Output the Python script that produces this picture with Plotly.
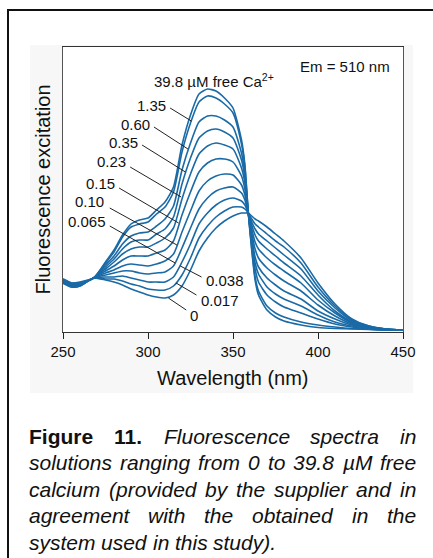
import plotly.graph_objects as go

# ---------------- data ----------------
wavelength = [250, 255, 260, 268, 275, 280, 285, 290, 295, 300, 305, 310, 315, 320,
              325, 330, 335, 340, 345, 350, 355, 357, 359, 361, 363, 365, 370, 375,
              380, 390, 400, 410, 420, 430, 440, 450]

ca_labels = ['0', '0.017', '0.038', '0.065', '0.10', '0.15', '0.23', '0.35', '0.60', '1.35', '39.8']

ex_0 = [47, 43, 44, 52, 50, 48, 45, 41, 38, 35, 33, 32, 35, 44, 60, 79, 92, 102, 109, 114,
        117, 117, 117, 114, 111, 109, 103, 96, 89, 72, 47, 26, 11, 4, 1, 0]
ex_0017 = [47, 43, 44, 52, 51, 51, 49, 46, 44, 41, 40, 40, 44, 55, 72, 92, 104, 113, 119, 123,
           123, 121, 117, 111, 106, 103, 96, 89, 83, 67, 43, 24, 10, 4, 1, 0]
ex_0038 = [48, 44, 45, 52, 53, 53, 54, 52, 50, 48, 48, 48, 53, 68, 86, 106, 117, 125, 130, 132,
           129, 125, 117, 108, 101, 96, 89, 82, 75, 61, 39, 22, 9, 3, 1, 0]
ex_0065 = [48, 44, 45, 52, 55, 57, 59, 59, 57, 56, 57, 58, 64, 82, 102, 121, 132, 139, 142, 143,
           137, 130, 117, 105, 95, 89, 81, 74, 67, 54, 35, 19, 8, 3, 1, 0]
ex_010 = [48, 44, 45, 52, 57, 60, 64, 66, 65, 64, 66, 69, 76, 98, 119, 139, 149, 154, 156, 155,
          145, 135, 117, 101, 88, 81, 72, 65, 59, 47, 30, 17, 7, 3, 1, 0]
ex_015 = [49, 45, 46, 52, 59, 64, 70, 74, 74, 74, 77, 80, 89, 115, 138, 158, 167, 171, 171, 168,
          154, 141, 117, 97, 81, 72, 62, 55, 49, 39, 25, 14, 6, 2, 0.5, 0]
ex_023 = [49, 45, 46, 52, 61, 68, 76, 81, 83, 83, 87, 92, 102, 131, 156, 176, 184, 187, 185, 181,
          162, 147, 117, 93, 73, 63, 52, 45, 39, 31, 19, 11, 5, 2, 0, 0]
ex_035 = [50, 46, 47, 52, 63, 71, 81, 88, 90, 90, 96, 101, 113, 146, 172, 192, 199, 201, 198, 192,
          170, 152, 117, 90, 67, 56, 43, 36, 31, 24, 15, 8, 4, 1.5, 0, 0]
ex_060 = [50, 46, 47, 52, 65, 74, 86, 94, 97, 98, 104, 111, 124, 160, 187, 208, 214, 214, 210, 203,
          177, 156, 117, 86, 61, 48, 35, 28, 23, 17, 11, 6, 3, 1, 0, 0]
ex_135 = [51, 47, 47, 52, 67, 78, 93, 103, 106, 108, 116, 123, 138, 178, 207, 228, 234, 232, 226, 217,
          186, 163, 117, 82, 53, 39, 24, 17, 13, 8, 5, 3, 1.5, 0.7, 0, 0]
ex_398 = [51, 47, 48, 52, 68, 80, 95, 106, 110, 112, 120, 128, 143, 185, 215, 236, 241, 239, 232, 222,
          190, 165, 117, 80, 50, 35, 20, 13, 9, 5, 2.5, 1.5, 1, 0.5, 0, 0]

series = [ex_0, ex_0017, ex_0038, ex_0065, ex_010, ex_015, ex_023, ex_035, ex_060, ex_135, ex_398]

x_ticks = [250, 300, 350, 400, 450]

# ---------------- figure ----------------
W, H = 433, 558
L, R, T, B = 63, 30, 47, 226
PW, PH = W - L - R, H - T - B
FONT = 'Liberation Sans, Arial, Helvetica, sans-serif'
BLUE = '#1a6aa6'


def px(x):
    return (x - L) / PW


def py(y):
    return (H - B - y) / PH


fig = go.Figure()
for vals, lab in zip(series, ca_labels):
    fig.add_trace(go.Scatter(x=wavelength, y=vals, mode='lines', name=lab,
                             line=dict(color=BLUE, width=1.6, shape='spline', smoothing=0.6),
                             hoverinfo='skip', showlegend=False))

shapes = [
    dict(type='rect', xref='paper', yref='paper', x0=px(30), x1=px(413), y0=py(393), y1=py(45),
         fillcolor='#f7f7f7', line=dict(width=0), layer='below'),
    dict(type='rect', xref='paper', yref='paper', x0=0, x1=1, y0=0, y1=1,
         fillcolor='white', line=dict(width=0), layer='below'),
    dict(type='rect', xref='paper', yref='paper', x0=px(8), x1=px(450), y0=py(580), y1=py(10),
         fillcolor='rgba(0,0,0,0)', line=dict(color='#111', width=2), layer='above'),
]

annotations = []

# label positions (text x, text y, anchor, leader start, leader end) in data units
label_layout = {
    '1.35': (312, 225, 'right', (313, 222), (325.5, 209)),
    '0.60': (302.5, 206, 'right', (303.5, 203), (323.5, 181)),
    '0.35': (295.5, 188, 'right', (296.5, 185), (322, 158)),
    '0.23': (288.5, 169, 'right', (289.5, 163), (319.5, 133)),
    '0.15': (282, 147, 'right', (283, 142), (318, 107)),
    '0.10': (275, 129, 'right', (277.5, 122), (317, 85)),
    '0.065': (276.5, 109, 'right', (277.5, 104), (316, 67)),
    '0.038': (333, 50, 'left', (331.5, 53), (319, 64)),
    '0.017': (330, 30, 'left', (328.5, 35), (316.5, 47)),
    '0': (323.5, 15, 'left', (322.5, 20), (312, 32)),
}
for lab in ca_labels:
    if lab not in label_layout:
        continue
    tx, ty, anc, (lx0, ly0), (lx1, ly1) = label_layout[lab]
    annotations.append(dict(x=tx, y=ty, xref='x', yref='y', text=lab, showarrow=False,
                            xanchor=anc, yanchor='middle',
                            font=dict(family=FONT, size=15, color='#111')))
    shapes.append(dict(type='line', xref='x', yref='y', x0=lx0, y0=ly0, x1=lx1, y1=ly1,
                       line=dict(color='#222', width=1), layer='above'))

annotations.append(dict(x=px(152), y=py(80), xref='paper', yref='paper',
                        text='39.8 µM free Ca<sup>2+</sup>', showarrow=False,
                        xanchor='left', yanchor='middle',
                        font=dict(family=FONT, size=15, color='#111')))
annotations.append(dict(x=px(298), y=py(66), xref='paper', yref='paper',
                        text='Em = 510 nm', showarrow=False,
                        xanchor='left', yanchor='middle',
                        font=dict(family=FONT, size=15, color='#111')))
# axis titles
annotations.append(dict(x=0.5, y=py(378), xref='paper', yref='paper',
                        text='Wavelength (nm)', showarrow=False,
                        xanchor='center', yanchor='middle',
                        font=dict(family=FONT, size=20, color='#111')))
annotations.append(dict(x=px(42), y=0.5, xref='paper', yref='paper',
                        text='Fluorescence excitation', showarrow=False, textangle=-90,
                        xanchor='center', yanchor='middle',
                        font=dict(family=FONT, size=20, color='#111')))

# ---------------- caption (justified) ----------------
CAP_FS = 21
REG = dict(a=556, b=556, c=500, d=556, e=556, f=278, g=556, h=556, i=222, j=222, k=500, l=222,
           m=833, n=556, o=556, p=556, q=556, r=333, s=500, t=278, u=556, v=500, w=722, x=500,
           y=500, z=500, F=611, M=833)
REG.update({'(': 333, ')': 333, '.': 278, 'µ': 576})
BOLD = dict(F=611, i=278, g=611, u=611, r=389, e=556)
BOLD.update({'.': 278})


def word_w(wd, bold):
    tab = BOLD if bold else REG
    return sum(tab.get(c, 556) for c in wd) * CAP_FS / 1000


cap_left, cap_right = 28, 415
cap_lines = [
    ([('Figure', True), ('11.', True)] + [(w_, False) for w_ in 'Fluorescence spectra in'.split()], True),
    ([(w_, False) for w_ in 'solutions ranging from 0 to 39.8 µM free'.split()], True),
    ([(w_, False) for w_ in 'calcium (provided by the supplier and in'.split()], True),
    ([(w_, False) for w_ in 'agreement with the obtained in the'.split()], True),
    ([(w_, False) for w_ in 'system used in this study).'.split()], False),
]
cap_y = [436, 462.5, 489, 515.5, 542]
for (words, justify), yline in zip(cap_lines, cap_y):
    widths = [word_w(w_, b) for w_, b in words]
    if justify:
        gap = (cap_right - cap_left - sum(widths)) / (len(words) - 1)
    else:
        gap = 278 * CAP_FS / 1000
    xpos = cap_left
    for (w_, b), ww in zip(words, widths):
        txt = '<b>%s</b>' % w_ if b else '<i>%s</i>' % w_
        annotations.append(dict(x=px(xpos - 1), y=py(yline), xref='paper', yref='paper',
                                text=txt, showarrow=False, xanchor='left', yanchor='middle',
                                font=dict(family=FONT, size=CAP_FS, color='#111')))
        xpos += ww + gap

fig.update_layout(
    width=W, height=H, autosize=False,
    margin=dict(l=L, r=R, t=T, b=B, pad=0),
    paper_bgcolor='white', plot_bgcolor='white',
    shapes=shapes, annotations=annotations,
    xaxis=dict(range=[250, 450], tickvals=x_ticks, ticks='outside', ticklen=6, tickwidth=1,
               tickcolor='#222', showline=True, linecolor='#333', linewidth=1, mirror=True,
               showgrid=False, zeroline=False,
               tickfont=dict(family=FONT, size=15, color='#111')),
    yaxis=dict(range=[-2, 283], showticklabels=False, ticks='', showline=True,
               linecolor='#555', linewidth=1, mirror=True, showgrid=False, zeroline=False),
)

fig.write_html('out.html')
